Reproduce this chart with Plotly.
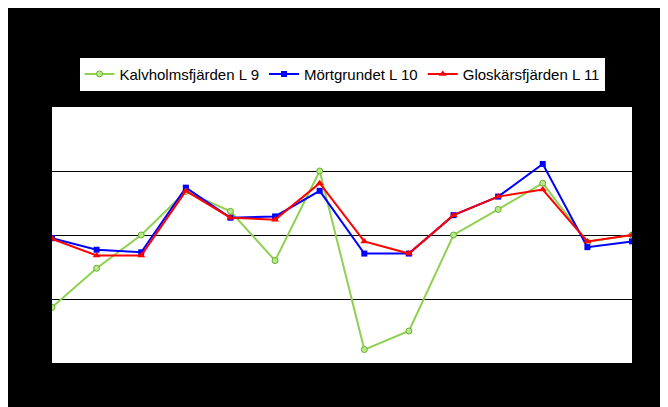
import plotly.graph_objects as go

x = list(range(14))
kalv = [0.87, 1.48, 2.0, 2.68, 2.37, 1.6, 3.0, 0.21, 0.5, 2.0, 2.4, 2.81, 1.89, 2.0]
mort = [1.95, 1.77, 1.73, 2.74, 2.27, 2.29, 2.69, 1.71, 1.71, 2.31, 2.6, 3.11, 1.81, 1.9]
glos = [1.94, 1.68, 1.68, 2.69, 2.27, 2.24, 2.81, 1.9, 1.71, 2.31, 2.6, 2.71, 1.9, 2.0]

fig = go.Figure()
fig.add_trace(go.Scatter(x=x, y=kalv, name="Kalvholmsfjärden L 9", mode="lines+markers",
    line=dict(color="#8fd14f", width=2), marker=dict(symbol="circle", size=6, color="#b8e986", line=dict(color="#66b032", width=1))))
fig.add_trace(go.Scatter(x=x, y=mort, name="Mörtgrundet L 10", mode="lines+markers",
    line=dict(color="#0000ff", width=2), marker=dict(symbol="square", size=6, color="#0000ff")))
fig.add_trace(go.Scatter(x=x, y=glos, name="Gloskärsfjärden L 11", mode="lines+markers",
    line=dict(color="#ff0000", width=2), marker=dict(symbol="triangle-up", size=7, color="#ff0000")))

fig.update_layout(
    width=660, height=399, paper_bgcolor="black", plot_bgcolor="white",
    margin=dict(l=44, r=36, t=99, b=44),
    font=dict(family="Liberation Sans, Arial", size=13, color="black"),
    showlegend=True,
    legend=dict(orientation="h", x=0.5, xanchor="center", y=1.06, yanchor="bottom",
                bgcolor="white", bordercolor="black", borderwidth=1, font=dict(size=15, color="black")),
    xaxis=dict(range=[0, 13], showgrid=False, zeroline=False, showticklabels=False,
               ticks="outside", tickcolor="black", dtick=1, showline=True, linecolor="black"),
    yaxis=dict(range=[0, 4], dtick=1, showgrid=True, gridcolor="black", gridwidth=1,
               zeroline=False, showticklabels=False, showline=True, linecolor="black"),
)
fig.write_html("out.html", config={"responsive": False})
